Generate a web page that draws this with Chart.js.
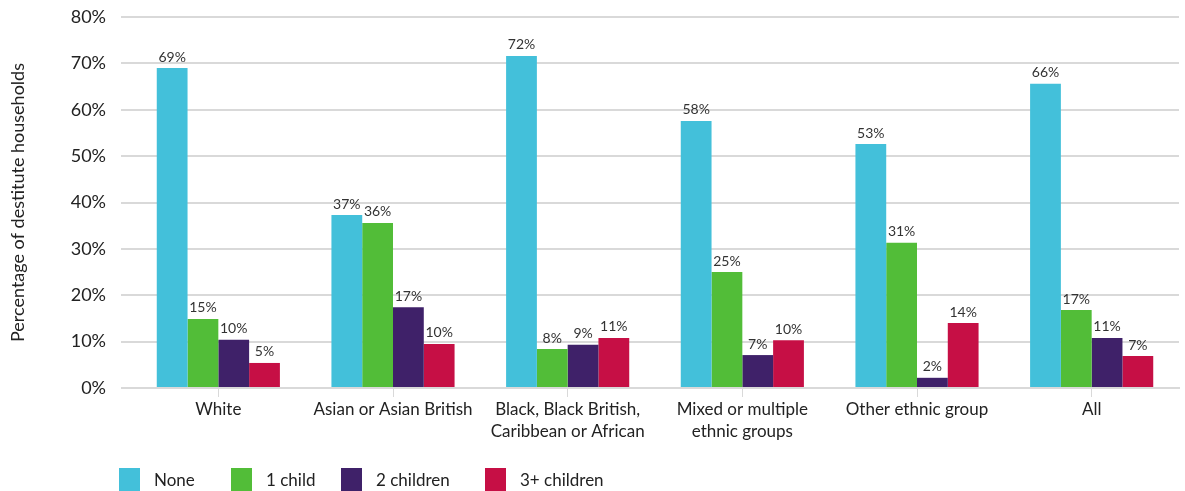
<!DOCTYPE html>
<html>
<head>
<meta charset="utf-8">
<script src="https://cdn.jsdelivr.net/npm/chart.js@4.4.0/dist/chart.umd.min.js"></script>
<style>
    html, body { margin: 0; padding: 0; background: #fff; }
    #wrap { position: relative; width: 1185px; height: 491px; overflow: hidden; }
    #legend { position: absolute; left: 0; top: 468px; width: 1185px; height: 23px; font-family: Lato, sans-serif; font-size: 17px; color: #222; }
    .item { position: absolute; top: 0; height: 23px; display: flex; align-items: center; white-space: nowrap; }
    .box { width: 21px; height: 23px; margin-right: 14px; }
</style>
</head>
<body>
<div id="wrap">
    <canvas id="chart" width="1185" height="491"></canvas>
    <div id="legend"></div>
</div>
<script>
// Chart data
var categories = ['White', 'Asian or Asian British', ['Black, Black British,', 'Caribbean or African'], ['Mixed or multiple', 'ethnic groups'], 'Other ethnic group', 'All'];
var seriesNames = ['None', '1 child', '2 children', '3+ children'];
var seriesColors = ['#43c0da', '#52bd38', '#3f2169', '#c60f45'];
var noneValues = [69.0, 37.3, 71.6, 57.6, 52.6, 65.6];
var oneChildValues = [14.9, 35.6, 8.4, 25.0, 31.3, 16.8];
var twoChildrenValues = [10.4, 17.4, 9.3, 7.1, 2.2, 10.8];
var threePlusValues = [5.4, 9.5, 10.8, 10.3, 14.0, 6.9];
var yTicks = [0, 10, 20, 30, 40, 50, 60, 70, 80];

document.addEventListener('DOMContentLoaded', function() {
    var allValues = [noneValues, oneChildValues, twoChildrenValues, threePlusValues];

    // Labels above bars
    var barLabels = {
        id: 'barLabels',
        afterDatasetsDraw: function(chart) {
            var ctx = chart.ctx;
            ctx.save();
            ctx.font = '14px Lato, sans-serif';
            ctx.fillStyle = '#333';
            ctx.textAlign = 'center';
            ctx.textBaseline = 'bottom';
            chart.data.datasets.forEach(function(ds, i) {
                chart.getDatasetMeta(i).data.forEach(function(bar, j) {
                    ctx.fillText(Math.round(ds.data[j]) + '%', bar.x, bar.y - 4);
                });
            });
            ctx.restore();
        }
    };

    var ctx = document.getElementById('chart').getContext('2d');
    var chart = new Chart(ctx, {
        type: 'bar',
        data: {
            labels: categories,
            datasets: seriesNames.map(function(name, i) {
                return {
                    label: name,
                    data: allValues[i],
                    backgroundColor: seriesColors[i],
                    categoryPercentage: 0.705,
                    barPercentage: 1.0
                };
            })
        },
        options: {
            responsive: false,
            animation: false,
            layout: { padding: { top: 17, right: 6, bottom: 43, left: 0 } },
            plugins: {
                legend: { display: false },
                tooltip: { enabled: false }
            },
            scales: {
                x: {
                    afterFit: function(scale) { scale.height = 60; },
                    grid: { offset: false, drawOnChartArea: false, drawTicks: true, tickLength: 9, color: '#d9d9d9' },
                    border: { color: '#d9d9d9', width: 2 },
                    ticks: { font: { family: 'Lato, sans-serif', size: 17, lineHeight: 1.3 }, color: '#222', padding: 1, maxRotation: 0, autoSkip: false }
                },
                y: {
                    min: 0,
                    max: 80,
                    afterBuildTicks: function(scale) {
                        scale.ticks = yTicks.map(function(v) { return { value: v }; });
                    },
                    afterFit: function(scale) {
                        scale.width = 131;
                        scale.paddingTop = 0;
                        scale.paddingBottom = 0;
                    },
                    grid: { color: '#d9d9d9', lineWidth: 2, drawTicks: true, tickLength: 10 },
                    border: { display: false },
                    ticks: {
                        font: { family: 'Lato, sans-serif', size: 18 },
                        color: '#222',
                        padding: 15,
                        callback: function(v) { return v + '%'; }
                    },
                    title: {
                        display: true,
                        text: 'Percentage of destitute households',
                        font: { family: 'Lato, sans-serif', size: 18 },
                        color: '#222',
                        padding: { top: 7, bottom: 0 }
                    }
                }
            }
        },
        plugins: [barLabels]
    });

    // Legend
    var legend = document.getElementById('legend');
    var lefts = [119, 231, 341, 485];
    seriesNames.forEach(function(name, i) {
        var item = document.createElement('div');
        item.className = 'item';
        item.style.left = lefts[i] + 'px';
        item.innerHTML = '<span class="box" style="background:' + seriesColors[i] + '"></span><span>' + name + '</span>';
        legend.appendChild(item);
    });
});
</script>
</body>
</html>
